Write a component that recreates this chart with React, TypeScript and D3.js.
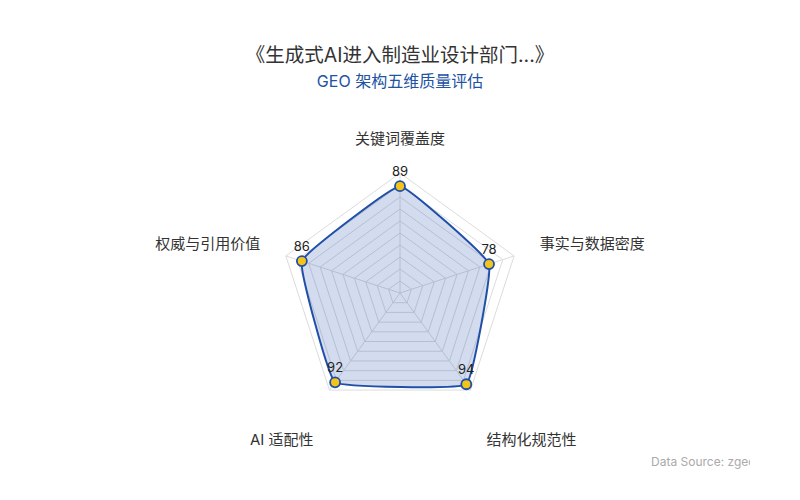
import * as d3 from "d3";

const TITLE = "《生成式AI进入制造业设计部门...》";
const SUBTITLE = "GEO 架构五维质量评估";
const SOURCE = "Data Source: zgeo";

const dimensions = ["关键词覆盖度", "事实与数据密度", "结构化规范性", "AI 适配性", "权威与引用价值"];
const scores = [89, 78, 94, 92, 86];
const maxScore = 100;
const gridLevels = 10;

const WIDTH = 800;
const HEIGHT = 500;
const CX = 400;
const CY = 293;
const RADIUS = 120;
const LABEL_RADIUS = 147;

const BLUE = "#1f4fa8";
const YELLOW = "#f4c419";
const FONT = "Inter, 'Noto Sans CJK SC', sans-serif";

export default function App() {
  const n = dimensions.length;
  const angle = (i: number) => (i * 2 * Math.PI) / n;

  const rScale = d3.scaleLinear().domain([0, maxScore]).range([0, RADIUS]);

  const toXY = (i: number, r: number): [number, number] => [
    CX + r * Math.sin(angle(i)),
    CY - r * Math.cos(angle(i)),
  ];

  const levels = d3.range(1, gridLevels + 1).map((k) => (maxScore * k) / gridLevels);

  const ring = d3.line().curve(d3.curveLinearClosed);
  const area = d3.line().curve(d3.curveCardinalClosed.tension(0.75));

  const points = scores.map((v, i) => toXY(i, rScale(v)));

  return (
    <svg
      width={WIDTH}
      height={HEIGHT}
      style={{ position: "fixed", left: 0, top: 0, background: "#fff" }}
      fontFamily={FONT}
    >
      <defs>
        <clipPath id="src-clip">
          <rect x={0} y={0} width={750} height={HEIGHT} />
        </clipPath>
      </defs>

      <text x={CX} y={62} textAnchor="middle" fontSize={19.5} fill="#333">
        {TITLE}
      </text>
      <text x={CX} y={87} textAnchor="middle" fontSize={16} fill="#2152a3">
        {SUBTITLE}
      </text>

      {/* grid rings */}
      <g fill="none" stroke="#dcdcdc" strokeWidth={1}>
        {levels.map((lv) => (
          <path key={lv} d={ring(dimensions.map((_, i) => toXY(i, rScale(lv))))!} />
        ))}
        {dimensions.map((_, i) => {
          const [x, y] = toXY(i, RADIUS);
          return <line key={i} x1={CX} y1={CY} x2={x} y2={y} />;
        })}
      </g>

      {/* series */}
      <path d={area(points)!} fill={BLUE} fillOpacity={0.2} stroke={BLUE} strokeWidth={2} />
      {points.map(([x, y], i) => (
        <circle key={i} cx={x} cy={y} r={5} fill={YELLOW} stroke={BLUE} strokeWidth={1.8} />
      ))}
      {points.map(([x, y], i) => (
        <text key={i} x={x} y={y - 10} textAnchor="middle" fontSize={13} fill="#222">
          {scores[i]}
        </text>
      ))}

      {/* axis names */}
      {dimensions.map((name, i) => {
        const [x, y] = toXY(i, LABEL_RADIUS);
        const s = Math.sin(angle(i));
        const c = Math.cos(angle(i));
        const anchor = s > 0.1 ? "start" : s < -0.1 ? "end" : "middle";
        const dy = c > 0.9 ? -2 : c < -0.5 ? 33 : 1;
        return (
          <text key={name} x={x} y={y + dy} textAnchor={anchor} fontSize={15} fill="#333">
            {name}
          </text>
        );
      })}

      <text x={651} y={466} fontSize={12} fill="#aaa" clipPath="url(#src-clip)">
        {SOURCE}
      </text>
    </svg>
  );
}
